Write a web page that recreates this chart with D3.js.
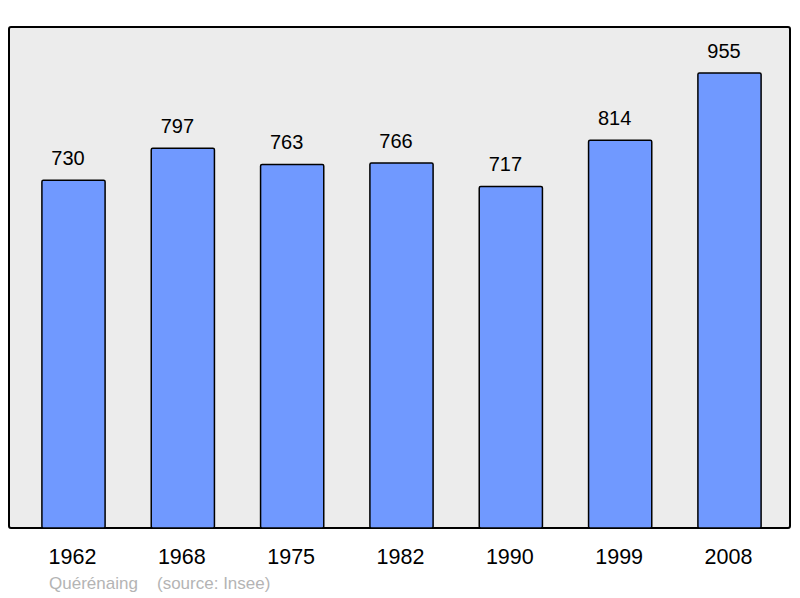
<!DOCTYPE html>
<html><head><meta charset="utf-8">
<script src="https://cdn.jsdelivr.net/npm/d3@7"></script>
<style>body{margin:0;background:#fff}svg{display:block;font-family:"Liberation Sans",Arial,sans-serif}</style>
</head><body>
<svg id="c" width="800" height="598"></svg>
<script>
const years = ["1962","1968","1975","1982","1990","1999","2008"];
const population = [730,797,763,766,717,814,955];
const captionParts = ["Quérénaing","(source: Insee)"];

const svg = d3.select("#c");
const frame = {x0:9, y0:27, x1:790, y1:528};

svg.append("rect").attr("x",frame.x0).attr("y",frame.y0)
  .attr("width",frame.x1-frame.x0).attr("height",frame.y1-frame.y0)
  .attr("rx",2).attr("fill","#ececec").attr("stroke","#000").attr("stroke-width",2);

const x = d3.scalePoint().domain(years).range([73.5,729.5]);
const bw = x.step()*0.578;
const y = d3.scaleLinear().domain([0,1051.6]).range([frame.y1,frame.y0]);

const g = svg.append("g");
g.selectAll("rect.bar").data(years).join("rect").attr("class","bar")
  .attr("x",d=>x(d)-bw/2).attr("width",bw)
  .attr("y",(d,i)=>y(population[i])).attr("height",(d,i)=>frame.y1-y(population[i]))
  .attr("rx",1.5).attr("fill","#7099ff").attr("stroke","#000").attr("stroke-width",1.5);

g.selectAll("text.val").data(years).join("text").attr("class","val")
  .attr("x",d=>x(d)-5.5).attr("y",(d,i)=>y(population[i])-15)
  .attr("text-anchor","middle").attr("font-size",20).attr("fill","#000")
  .text((d,i)=>population[i]);

const xa = svg.append("g").attr("transform",`translate(0,${frame.y1})`)
  .call(d3.axisBottom(x).tickSize(0).tickPadding(0));
xa.select(".domain").remove();
xa.selectAll("text").attr("font-size",21.5).attr("fill","#000")
  .attr("font-family","Liberation Sans, Arial, sans-serif")
  .attr("dx",-1.5).attr("dy",null).attr("y",36);

svg.selectAll("text.cap").data(captionParts).join("text").attr("class","cap")
  .attr("x",(d,i)=>i===0?49:157).attr("y",589).attr("font-size",17)
  .attr("fill","#b4b4b4").text(d=>d);
</script>
</body></html>
